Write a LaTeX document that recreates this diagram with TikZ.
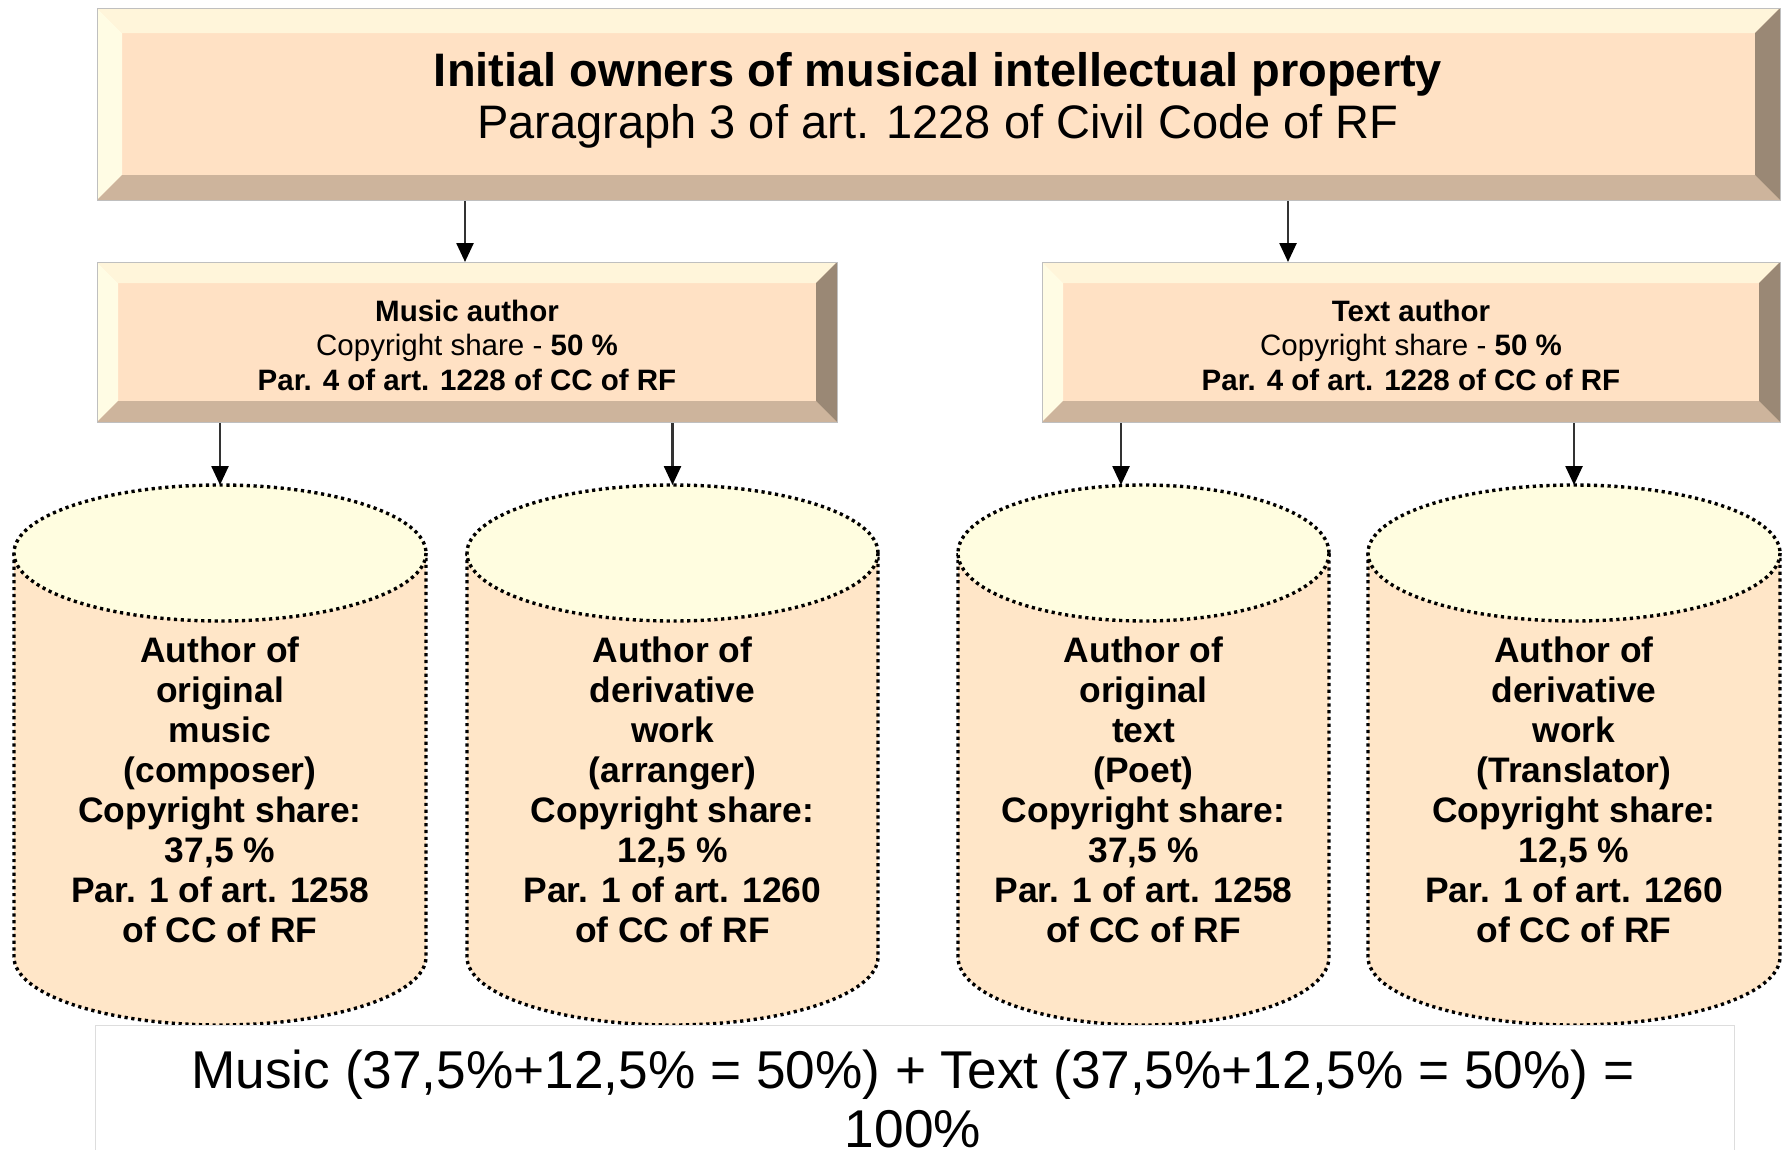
\documentclass[tikz,border=0pt]{standalone}
\usepackage{fontspec}
\setmainfont{Liberation Sans}
\usetikzlibrary{arrows.meta,calc}

\definecolor{bvface}{HTML}{FFE1C4}
\definecolor{bvtopc}{HTML}{FFF5DA}
\definecolor{bvleftc}{HTML}{FFFCE4}
\definecolor{bvbotc}{HTML}{CDB49C}
\definecolor{bvrightc}{HTML}{9A8875}
\definecolor{cylbodyc}{HTML}{FFE6C8}
\definecolor{cyltopc}{HTML}{FFFDE0}
\definecolor{linkc}{HTML}{333333}
\definecolor{sumedge}{HTML}{DDDDDD}

\tikzset{
  link/.style={draw=linkc, line width=2.5pt,
    -{Triangle[length=19pt,width=17pt,color=black,fill=black]}},
  cyledge/.style={draw=black, line width=3.4pt, dash pattern=on 3.2pt off 3.6pt},
  cyltext/.style={align=center, inner sep=0pt,
    font=\fontsize{35.4}{40}\selectfont\bfseries},
  boxtext/.style={align=center, inner sep=0pt,
    font=\fontsize{29.5}{34.5}\selectfont},
  toptext/.style={align=center, inner sep=0pt,
    font=\fontsize{47}{52}\selectfont},
  sumtext/.style={align=center, inner sep=0pt,
    font=\fontsize{53.2}{59}\selectfont},
}

% bevelled box: name, x1, y1, x2, y2, bevel width
\newcommand\bevelbox[6]{%
  \fill[bvface] (#2,#3) rectangle (#4,#5);
  \fill[bvtopc] (#2,#3) -- (#4,#3) -- ({#4-#6},{#3+#6}) -- ({#2+#6},{#3+#6}) -- cycle;
  \fill[bvleftc] (#2,#3) -- ({#2+#6},{#3+#6}) -- ({#2+#6},{#5-#6}) -- (#2,#5) -- cycle;
  \fill[bvbotc] (#2,#5) -- ({#2+#6},{#5-#6}) -- ({#4-#6},{#5-#6}) -- (#4,#5) -- cycle;
  \fill[bvrightc] (#4,#3) -- (#4,#5) -- ({#4-#6},{#5-#6}) -- ({#4-#6},{#3+#6}) -- cycle;
  \node[draw=black!25, line width=1pt, inner sep=0pt, anchor=north west,
        minimum width={(#4-#2)*1pt}, minimum height={(#5-#3)*1pt}] (#1) at (#2,#3) {};
}

% cylinder: name, left x, right x (top ellipse centre y=553, bottom ellipse centre y=957)
\newcommand\cylinder[3]{%
  \pgfmathsetmacro\cylcx{(#2+#3)/2}%
  \pgfmathsetmacro\cylrx{(#3-#2)/2}%
  \fill[cylbodyc] (#2,553) -- (#2,957)
     arc[start angle=180, end angle=0, x radius=\cylrx, y radius=68]
     -- (#3,553) arc[start angle=0, end angle=-180, x radius=\cylrx, y radius=68] -- cycle;
  \draw[cyledge] (#2,553) -- (#2,957)
     arc[start angle=180, end angle=0, x radius=\cylrx, y radius=68]
     -- (#3,553);
  \fill[cyltopc] (\cylcx,553) ellipse[x radius=\cylrx, y radius=68];
  \draw[cyledge] (\cylcx,553) ellipse[x radius=\cylrx, y radius=68];
  \node[inner sep=0pt, anchor=north, minimum width={(#3-#2)*1pt}, minimum height=541pt]
     (#1) at (\cylcx,485) {};
}

\begin{document}
\begin{tikzpicture}[x=1pt, y=-1pt]
\path[use as bounding box, fill=white] (0,0) rectangle (1787,1149);

% header box
\bevelbox{top}{97}{8}{1780}{200}{25}
\node[toptext] (top-t) at (938,100.5)
  {\textbf{Initial owners of musical intellectual property}\\
   Paragraph 3 of art. 1228 of Civil Code of RF};

% second row
\bevelbox{music}{97}{262}{837}{422}{21}
\node[boxtext] (music-t) at (467,345)
  {\textbf{Music author}\\ Copyright share - \textbf{50 \%}\\ \textbf{Par. 4 of art. 1228 of CC of RF}};

\bevelbox{text}{1042}{262}{1780}{422}{21}
\node[boxtext] (text-t) at (1411,345)
  {\textbf{Text author}\\ Copyright share - \textbf{50 \%}\\ \textbf{Par. 4 of art. 1228 of CC of RF}};

% cylinders
\cylinder{c1}{14}{426}
\cylinder{c2}{467}{878}
\cylinder{c3}{958}{1329}
\cylinder{c4}{1368}{1780}

\node[cyltext] (c1-t) at (220,790)
  {Author of\\original\\music\\(composer)\\Copyright share:\\37,5 \%\\Par. 1 of art. 1258\\of CC of RF};
\node[cyltext] (c2-t) at (672.5,790)
  {Author of\\derivative\\work\\(arranger)\\Copyright share:\\12,5 \%\\Par. 1 of art. 1260\\of CC of RF};
\node[cyltext] (c3-t) at (1143.5,790)
  {Author of\\original\\text\\(Poet)\\Copyright share:\\37,5 \%\\Par. 1 of art. 1258\\of CC of RF};
\node[cyltext] (c4-t) at (1574,790)
  {Author of\\derivative\\work\\(Translator)\\Copyright share:\\12,5 \%\\Par. 1 of art. 1260\\of CC of RF};

% connectors
\coordinate (xl) at (465,0);
\coordinate (xr) at (1288,0);
\coordinate (x3) at (1121,0);
\draw[link] (top.south -| xl) -- (music.north -| xl);
\draw[link] (top.south -| xr) -- (text.north -| xr);
\draw[link] (music.south -| c1.north) -- (c1.north);
\draw[link] (music.south -| c2.north) -- (c2.north);
\draw[link] (text.south -| x3) -- (c3.north -| x3);
\draw[link] (text.south -| c4.north) -- (c4.north);

% total
\node[draw=sumedge, line width=1pt, fill=white, inner sep=0pt, anchor=north west,
      minimum width=1639pt, minimum height=200pt] (sum) at (95,1025) {};
\node[sumtext] (sum-t) at (913,1099)
  {Music (37,5\%+12,5\% = 50\%) + Text (37,5\%+12,5\% = 50\%) =\\100\%};
\end{tikzpicture}
\end{document}
